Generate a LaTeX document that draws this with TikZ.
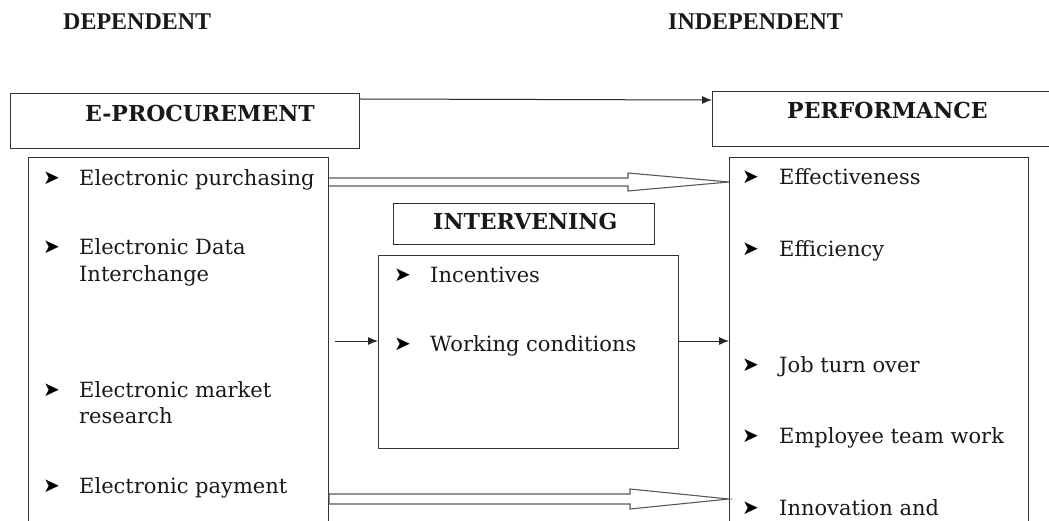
\documentclass[tikz,border=0pt]{standalone}
\usepackage{fontspec}
\setmainfont{DejaVu Serif}
\newfontfamily\timesbold{Liberation Serif}[BoldFont={Liberation Serif Bold}]
\newfontfamily\dingfont{DejaVu Sans}
\usetikzlibrary{arrows.meta,calc}
\begin{document}
\begin{tikzpicture}[x=1pt,y=-1pt,
  boxline/.style={draw=black!80,line width=1.1pt},
  frame/.style={boxline,rectangle,inner sep=0pt,anchor=north west},
  toptitle/.style={anchor=base west,inner sep=0pt,font=\timesbold\fontsize{24}{24}\selectfont\bfseries,text=black!90},
  head/.style={anchor=base west,inner sep=0pt,font=\fontsize{22}{22}\selectfont\bfseries,text=black!90},
  item/.style={anchor=base west,inner sep=0pt,font=\fontsize{21}{21}\selectfont,text=black!90},
  bul/.style={anchor=base west,inner sep=0pt,font=\dingfont\fontsize{20}{20}\selectfont,text=black},
  hollow/.style={draw=black!65,line width=1.1pt,fill=white,line join=miter},
  conn/.style={black!85,line width=1pt,-{Latex[length=10pt,width=8pt]}}
]
\useasboundingbox (0,0) rectangle (1049,521);
\clip (0,0) rectangle (1049,521);

% titles
\node[toptitle] (dep) at (63,30) {DEPENDENT};
\node[toptitle] (indep) at (668,30) {INDEPENDENT};

% header boxes
\node[frame,minimum width=349pt,minimum height=55pt] (eproc) at (10,93) {};
\node[head] (eproctxt) at (85,122) {E-PROCUREMENT};
\node[frame,minimum width=380pt,minimum height=55pt] (perf) at (712,91) {};
\node[head] (perftxt) at (787,119) {PERFORMANCE};
\node[frame,minimum width=261pt,minimum height=41pt] (inthead) at (393,203) {};
\node[head] (intheadtxt) at (433,230) {INTERVENING};

% list boxes
\node[frame,minimum width=300pt,minimum height=400pt] (left) at (28,157) {};
\node[frame,minimum width=299pt,minimum height=400pt] (right) at (729,157) {};
\node[frame,minimum width=300pt,minimum height=193pt] (intlist) at (378,255) {};

% left items
\node[bul] (lb1) at (43,185) {➤};
\node[item] (l1) at (79,186) {Electronic purchasing};
\node[bul] (lb2) at (43,254) {➤};
\node[item] (l2) at (79,255) {Electronic Data};
\node[item] (l2b) at (79,281) {Interchange};
\node[bul] (lb3) at (43,396) {➤};
\node[item] (l3) at (79,397) {Electronic market};
\node[item] (l3b) at (79,423) {research};
\node[bul] (lb4) at (43,492) {➤};
\node[item] (l4) at (79,493) {Electronic payment};

% intervening items
\node[bul] (ib1) at (394,282) {➤};
\node[item] (i1) at (430,283) {Incentives};
\node[bul] (ib2) at (394,350) {➤};
\node[item] (i2) at (430,351) {Working conditions};

% right items
\node[bul] (rb1) at (742,184) {➤};
\node[item] (r1) at (779,185) {Effectiveness};
\node[bul] (rb2) at (742,256) {➤};
\node[item] (r2) at (779,257) {Efficiency};
\node[bul] (rb3) at (742,371) {➤};
\node[item] (r3) at (779,372) {Job turn over};
\node[bul] (rb4) at (742,442) {➤};
\node[item] (r4) at (779,443) {Employee team work};
\node[bul] (rb5) at (742,514) {➤};
\node[item] (r5) at (779,515) {Innovation and};

% top connector
\draw[conn] ([yshift=-6pt]eproc.north east) -- ([yshift=-9pt]perf.north west);

% hollow arrows
\coordinate (h1s) at (left.east |- 0,182);
\coordinate (h1t) at (right.west |- 0,182);
\draw[hollow] ($(h1s)+(0,-4)$) -- (628,178) -- (628,173) -- (h1t) -- (628,191) -- (628,186) -- ($(h1s)+(0,4)$);
\coordinate (h2s) at (left.east |- 0,499);
\coordinate (h2t) at (right.west |- 0,499);
\draw[hollow] ($(h2s)+(0,-5)$) -- (630,494) -- (630,489) -- (h2t) -- (630,509) -- (630,504) -- ($(h2s)+(0,5)$) -- cycle;

% small connectors
\coordinate (c1) at (335,341);
\draw[conn] (c1) -- (intlist.west |- c1);
\draw[conn] (intlist.east |- c1) -- (right.west |- c1);
\end{tikzpicture}
\end{document}
